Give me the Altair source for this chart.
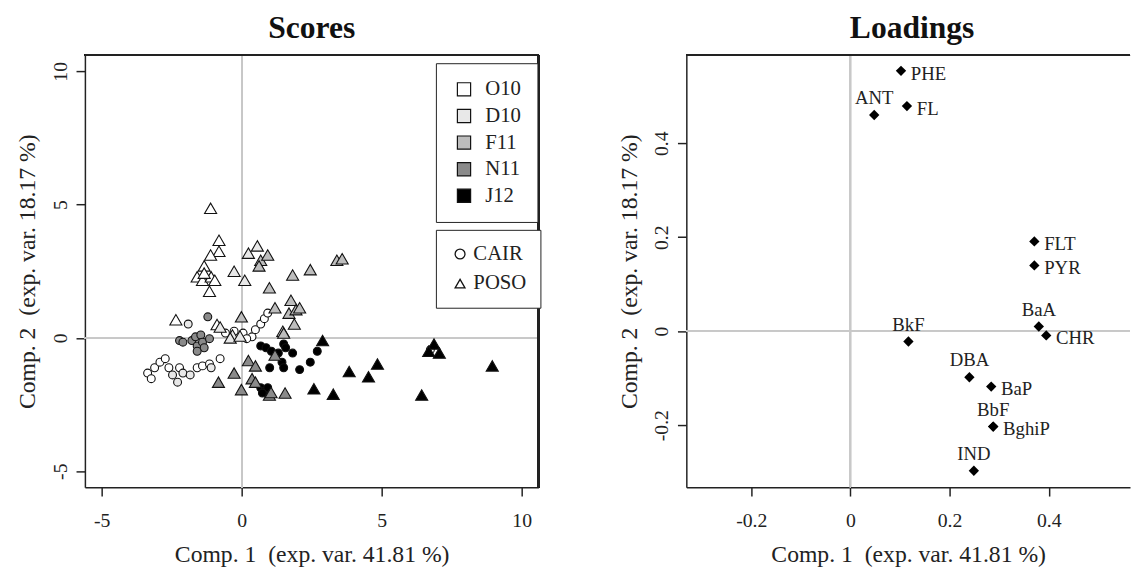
import altair as alt
import pandas as pd

FONT = "Liberation Serif"

# ---------------- Scores data ----------------
months = ["O10", "D10", "F11", "N11", "J12"]
month_colors = ["#ffffff", "#e8e8e8", "#bdbdbd", "#8a8a8a", "#000000"]
sites = ["CAIR", "POSO"]

# POSO (triangles)
poso_o10_x = [-1.11, -0.81, -0.81, -1.11, -1.34, -1.59, -1.40, -1.09, -0.96, -1.15, -1.34, -0.88, -2.35]
poso_o10_y = [4.86, 3.66, 3.25, 3.11, 2.70, 2.29, 2.16, 2.29, 2.16, 1.75, 2.43, 0.50, 0.68]
poso_d10_x = [0.24, 0.56, -0.27, 0.11, -0.77, -0.33, -0.41, -0.06, 1.47]
poso_d10_y = [3.18, 3.45, 2.50, 2.16, 0.41, 0.11, 0.00, 0.07, 0.25]
poso_f11_x = [0.68, 0.93, 0.62, 0.99, 1.82, 2.45, 3.40, 3.59, 1.19, 1.76, 1.69, 1.94, 2.07, 1.88, -0.01, 1.50]
poso_f11_y = [2.91, 3.11, 2.70, 1.88, 2.36, 2.56, 2.91, 2.97, 1.13, 1.41, 0.93, 1.06, 1.13, 0.52, 0.79, 0.18]
poso_n11_x = [-0.83, -0.27, -0.01, 0.24, 0.49, 0.37, 0.49, 0.99, 1.55, 1.19, 1.05]
poso_n11_y = [-1.66, -1.32, -1.94, -0.85, -1.05, -1.53, -1.66, -2.14, -2.07, -0.64, -2.05]
poso_j12_x = [2.89, 2.58, 3.27, 3.84, 4.53, 4.85, 6.43, 6.87, 6.68, 7.06, 8.95]
poso_j12_y = [-0.10, -1.91, -2.11, -1.26, -1.46, -0.98, -2.14, -0.23, -0.50, -0.57, -1.05]

# CAIR (circles)
cair_o10_x = [-3.36, -3.23, -3.11, -2.92, -2.73, -2.60, -2.22, -1.59, -1.40, -1.15, -0.77,
              -0.58, -0.27, 0.05, 0.37, 0.49, 0.68, 0.81, 0.93, 0.18, 6.74]
cair_o10_y = [-1.32, -1.53, -1.12, -0.91, -0.78, -1.12, -1.12, -1.12, -1.05, -0.98, -0.78,
              0.18, 0.25, 0.18, 0.04, 0.31, 0.52, 0.72, 0.93, -0.03, -0.44]
cair_d10_x = [-2.47, -2.29, -2.10, -1.84, -1.09, -1.91]
cair_d10_y = [-1.39, -1.66, -1.32, -1.39, -1.12, 0.52]
cair_n11_x = [-2.22, -2.10, -1.78, -1.65, -1.59, -1.46, -1.40, -1.34, -1.15, -1.59, -1.21]
cair_n11_y = [-0.10, -0.16, -0.10, 0.04, -0.30, 0.11, -0.16, -0.37, -0.03, -0.50, 0.79]
cair_j12_x = [0.68, 0.87, 1.06, 1.31, 1.50, 1.57, 1.44, 1.50, 1.00, 1.82, 2.07, 2.45, 2.70, 0.68, 0.81, 0.93, 0.74]
cair_j12_y = [-0.30, -0.37, -0.50, -0.57, -0.23, -0.37, -0.91, -1.12, -1.12, -0.57, -1.19, -0.91, -0.50, -1.87, -2.00, -1.87, -2.07]

groups = [
    ("CAIR", "O10", cair_o10_x, cair_o10_y),
    ("CAIR", "D10", cair_d10_x, cair_d10_y),
    ("CAIR", "N11", cair_n11_x, cair_n11_y),
    ("CAIR", "J12", cair_j12_x, cair_j12_y),
    ("POSO", "O10", poso_o10_x, poso_o10_y),
    ("POSO", "D10", poso_d10_x, poso_d10_y),
    ("POSO", "F11", poso_f11_x, poso_f11_y),
    ("POSO", "N11", poso_n11_x, poso_n11_y),
    ("POSO", "J12", poso_j12_x, poso_j12_y),
]
rows = []
for site, month, xs, ys in groups:
    for a, b in zip(xs, ys):
        rows.append({"x": a, "y": b, "month": month, "site": site})
scores_df = pd.DataFrame(rows)

# ---------------- Loadings data ----------------
pah_names = ["PHE", "FL", "ANT", "FLT", "PYR", "BaA", "CHR", "BkF", "DBA", "BaP", "BbF", "BghiP", "IND"]
load_x = [0.102, 0.114, 0.048, 0.371, 0.371, 0.380, 0.395, 0.117, 0.240, 0.284, 0.288, 0.288, 0.249]
load_y = [0.554, 0.479, 0.460, 0.191, 0.140, 0.010, -0.009, -0.022, -0.098, -0.118, -0.203, -0.203, -0.297]
labels_right = ["PHE", "FL", "FLT", "PYR", "CHR", "BaP", "BghiP"]
load_df = pd.DataFrame({"name": pah_names, "x": load_x, "y": load_y})
load_df["side"] = ["right" if n in labels_right else "top" for n in pah_names]

x_title = "Comp. 1\u00a0 (exp. var. 41.81 %)"
y_title = "Comp. 2\u00a0 (exp. var. 18.17 %)"

W1, H = 460, 438
W2 = 450

def xaxis(vals):
    return alt.Axis(values=vals, labelExpr="'' + datum.value", title=x_title,
                    labelPadding=15, titlePadding=12)

def yaxis(vals):
    return alt.Axis(values=vals, labelExpr="'' + datum.value", title=y_title,
                    labelAngle=270, labelAlign="center", labelBaseline="bottom",
                    labelPadding=6, titlePadding=11)

# ---------------- Scores panel ----------------
sx = alt.Scale(domain=[-5.6, 10.6], nice=False, zero=False)
sy = alt.Scale(domain=[-5.6, 10.6], nice=False, zero=False)
fill_scale = alt.Scale(domain=months, range=month_colors)
shape_scale = alt.Scale(domain=sites, range=["circle", "triangle-up"])

fill_legend = alt.Legend(title=None, orient="none", legendX=356, legendY=8,
                         symbolType="square", symbolSize=180,
                         symbolStrokeColor="#111111", symbolStrokeWidth=1.2,
                         labelFont=FONT, labelFontSize=21, labelColor="#222222",
                         padding=16, rowPadding=5, labelOffset=11, symbolOffset=2,
                         strokeColor="#222222", fillColor="white")
shape_legend = alt.Legend(title=None, orient="none", legendX=356, legendY=177,
                          symbolSize=100, symbolFillColor="white",
                          symbolStrokeColor="#111111", symbolStrokeWidth=1.3,
                          labelFont=FONT, labelFontSize=21, labelColor="#222222",
                          padding=14, rowPadding=8, labelOffset=3, symbolOffset=0,
                          strokeColor="#222222", fillColor="white")

s_base = alt.Chart(scores_df)
s_vline = s_base.mark_rule(color="#c8c8c8", strokeWidth=1.3).encode(
    x=alt.datum(0, scale=sx, axis=xaxis([-5, 0, 5, 10]), type="quantitative"))
s_hline = s_base.mark_rule(color="#c8c8c8", strokeWidth=1.3).encode(
    y=alt.datum(0, scale=sy, axis=yaxis([-5, 0, 5, 10]), type="quantitative"))


def site_layer(site, size):
    return s_base.transform_filter(alt.datum.site == site).mark_point(
        filled=True, stroke="#111111", strokeWidth=1.1, opacity=1, size=size).encode(
        x=alt.X("x:Q", scale=sx, axis=xaxis([-5, 0, 5, 10])),
        y=alt.Y("y:Q", scale=sy, axis=yaxis([-5, 0, 5, 10])),
        fill=alt.Fill("month:N", scale=fill_scale, legend=fill_legend),
        shape=alt.Shape("site:N", scale=shape_scale, legend=shape_legend),
    )


s_cair = site_layer("CAIR", 64)
s_poso = site_layer("POSO", 150)

s_top = s_base.mark_rule(color="#222222", strokeWidth=1.5).encode(
    x=alt.value(0), x2=alt.value(W1), y=alt.value(0))
s_right = s_base.mark_rule(color="#222222", strokeWidth=1.5).encode(
    x=alt.value(W1), y=alt.value(0), y2=alt.value(H))

scores = alt.layer(s_vline, s_hline, s_cair, s_poso, s_top, s_right).properties(
    width=W1, height=H,
    title=alt.TitleParams("Scores", font=FONT, fontSize=32, fontWeight="bold",
                          color="#111111", anchor="middle", offset=10))

# ---------------- Loadings panel ----------------
lx = alt.Scale(domain=[-0.331, 0.564], nice=False, zero=False)
ly = alt.Scale(domain=[-0.332, 0.587], nice=False, zero=False)

l_base = alt.Chart(load_df)
l_vline = l_base.mark_rule(color="#c8c8c8", strokeWidth=1.3).encode(
    x=alt.datum(0, scale=lx, axis=xaxis([-0.2, 0, 0.2, 0.4]), type="quantitative"))
l_hline = l_base.mark_rule(color="#c8c8c8", strokeWidth=1.3).encode(
    y=alt.datum(0, scale=ly, axis=yaxis([-0.2, 0, 0.2, 0.4]), type="quantitative"))
l_pts = l_base.mark_point(shape="diamond", filled=True, color="#000000", size=110, opacity=1).encode(
    x=alt.X("x:Q", scale=lx, axis=xaxis([-0.2, 0, 0.2, 0.4])),
    y=alt.Y("y:Q", scale=ly, axis=yaxis([-0.2, 0, 0.2, 0.4])),
)
l_txt_r = l_base.transform_filter("datum.side == 'right'").mark_text(
    align="left", baseline="middle", dx=10, dy=3, font=FONT, fontSize=19, color="#222222").encode(
    x="x:Q", y="y:Q", text="name:N")
l_txt_t = l_base.transform_filter("datum.side == 'top'").mark_text(
    align="center", baseline="bottom", dy=-7, font=FONT, fontSize=19, color="#222222").encode(
    x="x:Q", y="y:Q", text="name:N")
l_top = l_base.mark_rule(color="#222222", strokeWidth=1.5).encode(
    x=alt.value(0), x2=alt.value(W2), y=alt.value(0))

loadings = alt.layer(l_vline, l_hline, l_pts, l_txt_r, l_txt_t, l_top).properties(
    width=W2, height=H,
    title=alt.TitleParams("Loadings", font=FONT, fontSize=32, fontWeight="bold",
                          color="#111111", anchor="middle", offset=10, dx=4))

chart = alt.hconcat(scores, loadings, spacing=79).properties(
    padding={"left": 8, "top": 0, "right": 0, "bottom": 0},
    background="white"
).configure_view(stroke=None).configure_axis(
    grid=False, domainColor="#222222", domainWidth=1.5, tickColor="#222222",
    tickWidth=1.5, tickSize=9, labelFont=FONT, labelFontSize=20, labelColor="#222222",
    titleFont=FONT, titleFontSize=24, titleFontWeight="normal", titleColor="#222222"
)

chart.save("out.html", embed_options={"renderer": "svg", "actions": False})
